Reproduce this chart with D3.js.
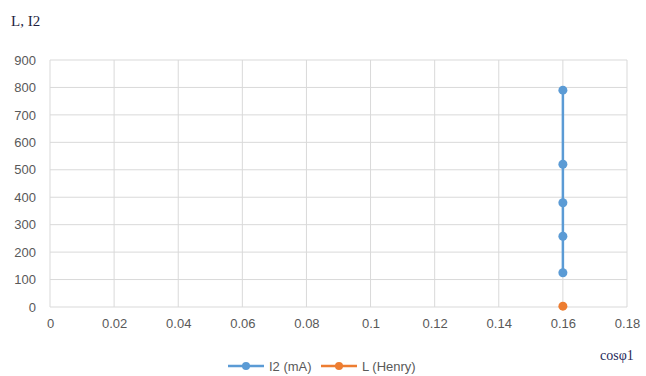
<!DOCTYPE html>
<html>
<head>
<meta charset="utf-8">
<script src="https://cdn.jsdelivr.net/npm/d3@7"></script>
<style>
  html, body { margin: 0; padding: 0; background: #fff; }
  svg { display: block; }
  .tick text { font-family: "Liberation Sans", Arial, sans-serif; font-size: 13px; fill: #595959; }
</style>
</head>
<body>
<svg id="chart" width="646" height="376"></svg>
<script>
// Measured current I2 (mA) and inductance L (Henry) against cosφ1
const cosPhi = [0.16, 0.16, 0.16, 0.16, 0.16];
const i2Values = [125, 258, 380, 520, 790];
const lCos = [0.16];
const lValues = [3];
const xTicks = [0, 0.02, 0.04, 0.06, 0.08, 0.1, 0.12, 0.14, 0.16, 0.18];
const yTicks = [0, 100, 200, 300, 400, 500, 600, 700, 800, 900];

const svg = d3.select("#chart");
const margin = { left: 50, right: 19, top: 60, bottom: 69 };
const W = 646, H = 376;

const x = d3.scaleLinear().domain([0, 0.18]).range([margin.left, W - margin.right]);
const y = d3.scaleLinear().domain([0, 900]).range([H - margin.bottom, margin.top]);

// gridlines
const grid = svg.append("g");
grid.selectAll("line.h").data(yTicks).join("line")
  .attr("x1", x(0)).attr("x2", x(0.18))
  .attr("y1", d => y(d)).attr("y2", d => y(d))
  .attr("stroke", "#d9d9d9").attr("stroke-width", 1);
grid.selectAll("line.v").data(xTicks).join("line")
  .attr("y1", y(0)).attr("y2", y(900))
  .attr("x1", d => x(d)).attr("x2", d => x(d))
  .attr("stroke", "#d9d9d9").attr("stroke-width", 1);

// axes (labels only)
const xAxis = svg.append("g").attr("transform", `translate(0,${y(0)})`)
  .call(d3.axisBottom(x).tickValues(xTicks).tickFormat(d3.format("~g")).tickSize(0).tickPadding(12));
const yAxis = svg.append("g").attr("transform", `translate(${x(0)},0)`)
  .call(d3.axisLeft(y).tickValues(yTicks).tickSize(0).tickPadding(14));
[xAxis, yAxis].forEach(a => a.select(".domain").remove());

// I2 series
const i2 = cosPhi.map((c, k) => [c, i2Values[k]]);
svg.append("path").datum(i2)
  .attr("fill", "none").attr("stroke", "#5b9bd5").attr("stroke-width", 2.5)
  .attr("d", d3.line().x(d => x(d[0])).y(d => y(d[1])));
svg.selectAll("circle.i2").data(i2).join("circle")
  .attr("cx", d => x(d[0])).attr("cy", d => y(d[1])).attr("r", 4.5)
  .attr("fill", "#5b9bd5");

// L series
const lPts = lCos.map((c, k) => [c, lValues[k]]);
svg.selectAll("circle.l").data(lPts).join("circle")
  .attr("cx", d => x(d[0])).attr("cy", d => y(d[1])).attr("r", 4.5)
  .attr("fill", "#ed7d31");

// axis titles
svg.append("text").attr("x", 11).attr("y", 26)
  .attr("font-family", "'Liberation Serif', 'Times New Roman', serif").attr("font-size", 15)
  .attr("fill", "#1f1f3f").text("L, I2");
svg.append("text").attr("x", 600).attr("y", 360)
  .attr("font-family", "'Liberation Serif', 'Times New Roman', serif").attr("font-size", 14)
  .attr("fill", "#1f2a5a").text("cosφ1");

// legend
const legend = [
  { name: "I2 (mA)", color: "#5b9bd5", x: 228 },
  { name: "L (Henry)", color: "#ed7d31", x: 321 }
];
const lg = svg.append("g").selectAll("g").data(legend).join("g")
  .attr("transform", d => `translate(${d.x},366)`);
lg.append("line").attr("x1", 0).attr("x2", 36).attr("stroke", d => d.color).attr("stroke-width", 2.5);
lg.append("circle").attr("cx", 18).attr("r", 4).attr("fill", d => d.color);
lg.append("text").attr("x", 41).attr("dy", "0.35em")
  .attr("font-family", "'Liberation Sans', Arial, sans-serif").attr("font-size", 13)
  .attr("fill", "#595959").text(d => d.name);
</script>
</body>
</html>
